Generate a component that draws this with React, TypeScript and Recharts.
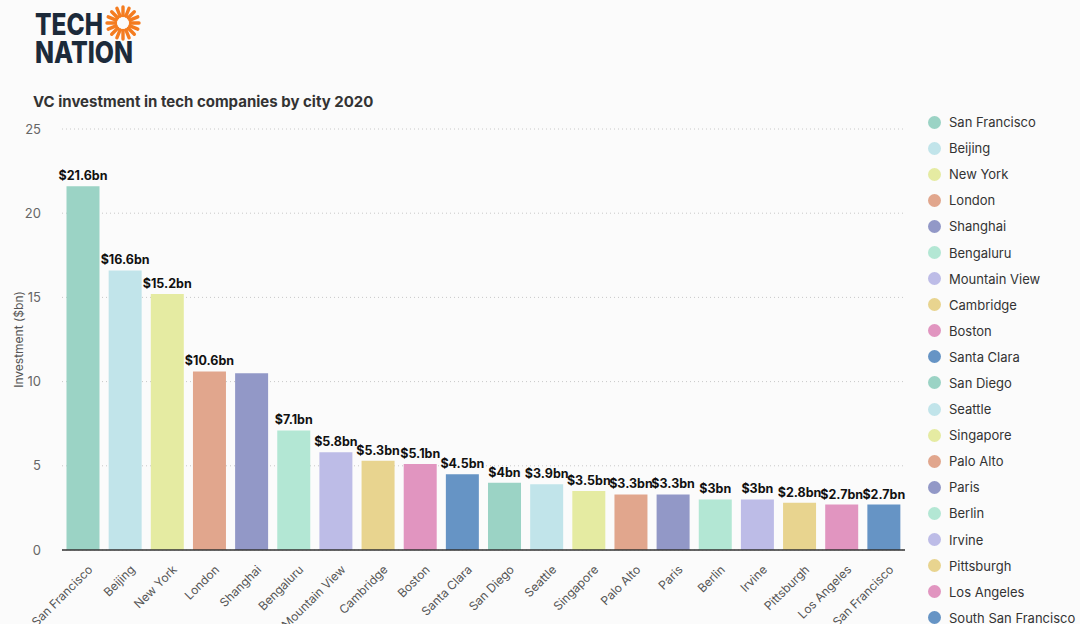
import React from 'react';
import { BarChart, Bar, XAxis, YAxis, CartesianGrid, Cell, LabelList } from 'recharts';

// data
const CITIES = [
    'San Francisco', 'Beijing', 'New York', 'London', 'Shanghai',
    'Bengaluru', 'Mountain View', 'Cambridge', 'Boston', 'Santa Clara',
    'San Diego', 'Seattle', 'Singapore', 'Palo Alto', 'Paris',
    'Berlin', 'Irvine', 'Pittsburgh', 'Los Angeles', 'South San Francisco',
];
const INVESTMENT = [21.6, 16.6, 15.2, 10.6, 10.5, 7.1, 5.8, 5.3, 5.1, 4.5, 4.0, 3.9, 3.5, 3.3, 3.3, 3.0, 3.0, 2.8, 2.7, 2.7];
const LABELS = [
    '$21.6bn', '$16.6bn', '$15.2bn', '$10.6bn', '',
    '$7.1bn', '$5.8bn', '$5.3bn', '$5.1bn', '$4.5bn',
    '$4bn', '$3.9bn', '$3.5bn', '$3.3bn', '$3.3bn',
    '$3bn', '$3bn', '$2.8bn', '$2.7bn', '$2.7bn',
];
const Y_TICKS = [0, 5, 10, 15, 20, 25];

// palette repeats every 10 cities
const PALETTE = [
    '#9bd3c5', '#c1e4ea', '#e5eba2', '#e1a68d', '#9298c7',
    '#b3e7d4', '#bdbce7', '#e8d48f', '#e195c0', '#6694c5',
];

const FONT = 'Inter, "Noto Sans", sans-serif';

const data = CITIES.map((city, i) => ({ city, value: INVESTMENT[i], label: LABELS[i] }));

const CityTick = (props: any) => {
    const { x, y, payload } = props;
    return (
        <g transform={`translate(${x + 4},${y + 6})`}>
            <text
                transform="rotate(-45)"
                textAnchor="end"
                dy={9}
                fontSize={12}
                fill="#555"
                fontFamily={FONT}
            >
                {payload.value}
            </text>
        </g>
    );
};

const Logo = () => {
    const rays = Array.from({ length: 16 }, (_, i) => i * (360 / 16));
    return (
        <svg width={160} height={70} style={{ position: 'absolute', left: 0, top: 0 }}>
            <text x={35} y={35} fontSize={30} fontWeight={800} fill="#1c2a3a" fontFamily={FONT} textLength={68} lengthAdjust="spacingAndGlyphs">TECH</text>
            <text x={35} y={63} fontSize={30} fontWeight={800} fill="#1c2a3a" fontFamily={FONT} textLength={98} lengthAdjust="spacingAndGlyphs">NATION</text>
            <g transform="translate(123,23)">
                {rays.map(a => (
                    <line
                        key={a}
                        x1={0}
                        y1={-7.5}
                        x2={0}
                        y2={-16}
                        stroke="#f47c20"
                        strokeWidth={3.4}
                        strokeLinecap="round"
                        transform={`rotate(${a})`}
                    />
                ))}
                <circle r={7.5} fill="none" stroke="#f47c20" strokeWidth={2} />
            </g>
        </svg>
    );
};

const CityLegend = () => (
    <div style={{ position: 'absolute', left: 928, top: 109 }}>
        {CITIES.map((city, i) => (
            <div key={city} style={{ display: 'flex', alignItems: 'center', height: 26.1 }}>
                <span
                    style={{
                        width: 13,
                        height: 13,
                        borderRadius: '50%',
                        background: PALETTE[i % PALETTE.length],
                        marginRight: 8,
                        flexShrink: 0,
                    }}
                />
                <span style={{ fontSize: 13, color: '#333', fontFamily: FONT, whiteSpace: 'nowrap' }}>{city}</span>
            </div>
        ))}
    </div>
);

export default function App() {
    return (
        <div
            style={{
                position: 'fixed',
                left: 0,
                top: 0,
                width: 1080,
                height: 624,
                background: '#fbfbfb',
                overflow: 'hidden',
                fontFamily: FONT,
            }}
        >
            <Logo />
            <div
                style={{
                    position: 'absolute',
                    left: 33,
                    top: 92,
                    fontSize: 15,
                    fontWeight: 700,
                    color: '#333',
                }}
            >
                VC investment in tech companies by city 2020
            </div>
            <div style={{ position: 'absolute', left: 0, top: 0 }}>
                <BarChart
                    width={1080}
                    height={624}
                    data={data}
                    margin={{ top: 129, right: 175, bottom: 0, left: 0 }}
                    barCategoryGap="10.7%"
                >
                    <CartesianGrid vertical={false} stroke="#c8c8c8" strokeDasharray="1 3" />
                    <XAxis
                        dataKey="city"
                        interval={0}
                        height={74}
                        tickLine={false}
                        axisLine={{ stroke: '#333', strokeWidth: 1.5 }}
                        tick={<CityTick />}
                    />
                    <YAxis
                        width={62}
                        domain={[0, 25]}
                        ticks={Y_TICKS}
                        axisLine={false}
                        tickLine={false}
                        tickMargin={15}
                        tick={{ fontSize: 13, fill: '#666', fontFamily: FONT }}
                        label={{
                            value: 'Investment ($bn)',
                            angle: -90,
                            position: 'insideLeft',
                            offset: 19,
                            style: { textAnchor: 'middle', fontSize: 12, fill: '#555', fontFamily: FONT },
                        }}
                    />
                    <Bar dataKey="value" isAnimationActive={false}>
                        {data.map((d, i) => (
                            <Cell key={d.city} fill={PALETTE[i % PALETTE.length]} />
                        ))}
                        <LabelList
                            dataKey="label"
                            position="top"
                            offset={6}
                            style={{ fontSize: 12.5, fontWeight: 700, fill: '#111', fontFamily: FONT }}
                        />
                    </Bar>
                </BarChart>
            </div>
            <CityLegend />
        </div>
    );
}
